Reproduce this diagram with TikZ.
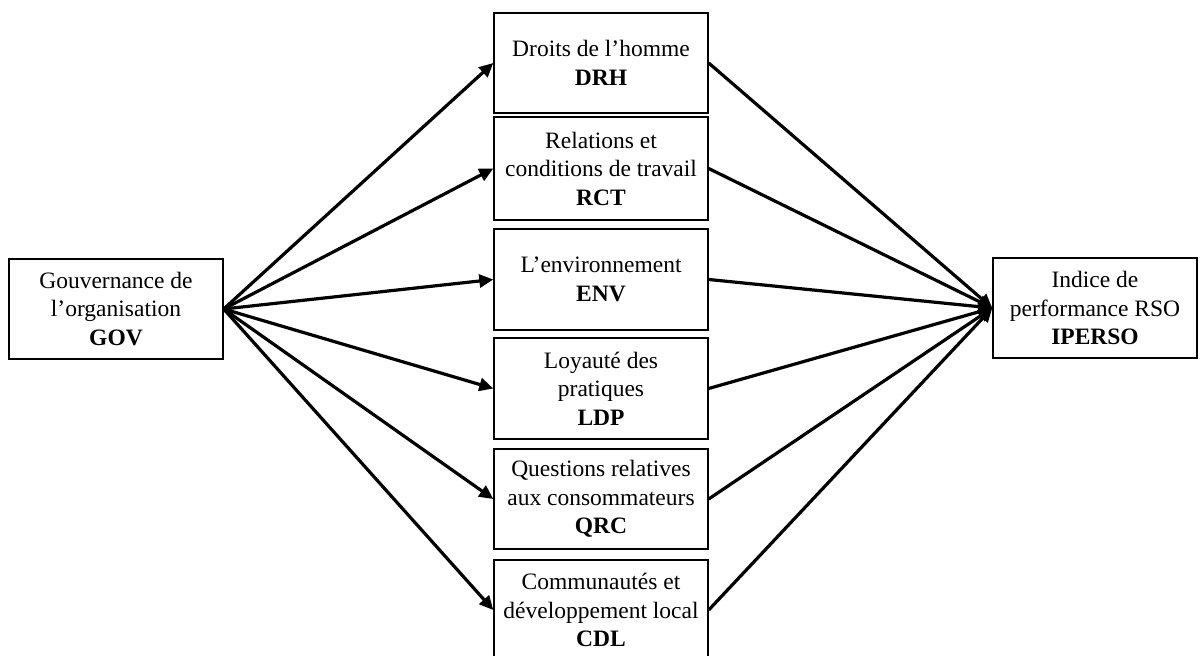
\documentclass[tikz,border=0pt]{standalone}
\usepackage{fontspec}
\setmainfont{Liberation Serif}
\usetikzlibrary{arrows.meta}
\begin{document}
\begin{tikzpicture}[x=1pt,y=1pt,
  box/.style={draw, line width=1.4pt, inner sep=0pt, align=center,
    font=\fontsize{23.5}{28.5}\selectfont},
  side/.style={box, minimum width=214pt, minimum height=100pt},
  mid/.style={box, minimum width=214pt},
  link/.style={line width=3.2pt, -{Triangle[length=14pt,width=13pt]}}]
\useasboundingbox (0,0) rectangle (1203,656);

% source and result boxes
\node[side] (gov) at (116,347) {Gouvernance de\\l’organisation\\\textbf{GOV}};
\node[side, minimum width=204pt] (iperso) at (1095,348) {Indice de\\performance RSO\\\textbf{IPERSO}};

% the six dimensions
\node[mid, minimum height=100pt] (drh) at (601,593) {Droits de l’homme\\\textbf{DRH}};
\node[mid, minimum height=103pt] (rct) at (601,487.5) {Relations et\\conditions de travail\\\textbf{RCT}};
\node[mid, minimum height=101pt] (env) at (601,376.5) {L’environnement\\\textbf{ENV}};
\node[mid, minimum height=101pt] (ldp) at (601,267.5) {Loyauté des\\pratiques\\\textbf{LDP}};
\node[mid, minimum height=100pt] (qrc) at (601,157) {Questions relatives\\aux consommateurs\\\textbf{QRC}};
\node[mid, minimum height=100pt] (cdl) at (601,46) {Communautés et\\développement local\\\textbf{CDL}};

% connectors
\foreach \d in {drh,rct,env,ldp,qrc,cdl}{
  \draw[link] (gov.east) -- (\d.west);
  \draw[link] (\d.east) -- (iperso.west);
}
\end{tikzpicture}
\end{document}
